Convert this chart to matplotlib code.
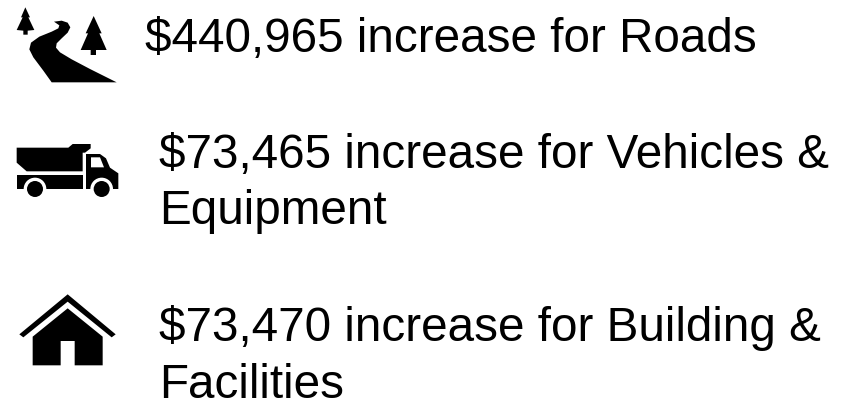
import numpy as np
import matplotlib
matplotlib.use("Agg")
import matplotlib.pyplot as plt
from matplotlib.patches import Polygon, Circle

amounts = ["$440,965", "$73,465", "$73,470"]
first_lines = ["increase for Roads", "increase for Vehicles &", "increase for Building &"]
second_lines = [None, "Equipment", "Facilities"]
text_x = [145, 159.5, 159.5]
text_y = [52, 168, 341]
LINE_GAP = 56.5
FS = 34.3

fig = plt.figure(figsize=(8.5, 4.01), dpi=100)
ax = fig.add_axes([0, 0, 1, 1])
ax.set_xlim(0, 850)
ax.set_ylim(401, 0)
ax.axis("off")

def z(pts, ox=0, oy=0):
    return [(x / 3 + ox, y / 3 + oy) for x, y in pts]

def poly(pts, ox=0, oy=0, color="black"):
    ax.add_patch(Polygon(z(pts, ox, oy), closed=True, fc=color, ec="none"))

def circ(cx, cy, r, ox=0, oy=0, color="black"):
    ax.add_patch(Circle((cx / 3 + ox, cy / 3 + oy), r / 3, fc=color, ec="none"))

# Road
road = [(162, 65), (185, 62), (203, 68), (211, 82), (203, 98), (185, 115), (170, 130),
        (168, 143), (180, 157), (215, 178), (270, 207), (350, 247), (155, 247),
        (130, 212), (100, 172), (88, 148), (93, 128), (118, 110), (155, 95),
        (175, 85), (178, 76)]
poly(road)
tree1 = [(76, 22), (90, 52), (85, 52), (103, 90), (83, 92), (83, 104), (70, 104), (70, 92),
         (50, 90), (68, 52), (63, 52)]
poly(tree1)
tree2 = [(281, 48), (305, 100), (298, 100), (320, 150), (288, 150), (288, 165), (272, 165),
         (272, 150), (242, 150), (264, 100), (257, 100)]
poly(tree2)

# Truck
oy = 130
poly([(50, 53), (205, 53), (218, 42), (272, 42), (272, 55), (255, 68), (248, 68),
      (248, 124), (80, 124), (50, 98)], 0, oy)
poly([(50, 135), (248, 135), (248, 177), (50, 177)], 0, oy)
poly([(258, 72), (300, 72), (318, 85), (330, 113), (355, 130), (355, 177), (258, 177)], 0, oy)
poly([(273, 82), (300, 82), (312, 112), (273, 112)], 0, oy, "white")
for cx in (105, 305):
    circ(cx, 177, 34, 0, oy, "white")
    circ(cx, 177, 24, 0, oy)

# House
oy = 280
poly([(203, 43), (347, 163), (335, 172), (203, 65), (70, 172), (58, 163)], 0, oy)
poly([(203, 85), (308, 170), (308, 256), (224, 256), (224, 183), (182, 183), (182, 256),
      (98, 256), (98, 170)], 0, oy)

# Text
for a, l1, l2, x, y in zip(amounts, first_lines, second_lines, text_x, text_y):
    ax.text(x, y, f"{a} {l1}", fontsize=FS, family="Liberation Sans", color="black",
            va="baseline", ha="left")
    if l2:
        ax.text(x, y + LINE_GAP, l2, fontsize=FS, family="Liberation Sans", color="black",
                va="baseline", ha="left")

fig.savefig("out.png", dpi=100, facecolor="white")
